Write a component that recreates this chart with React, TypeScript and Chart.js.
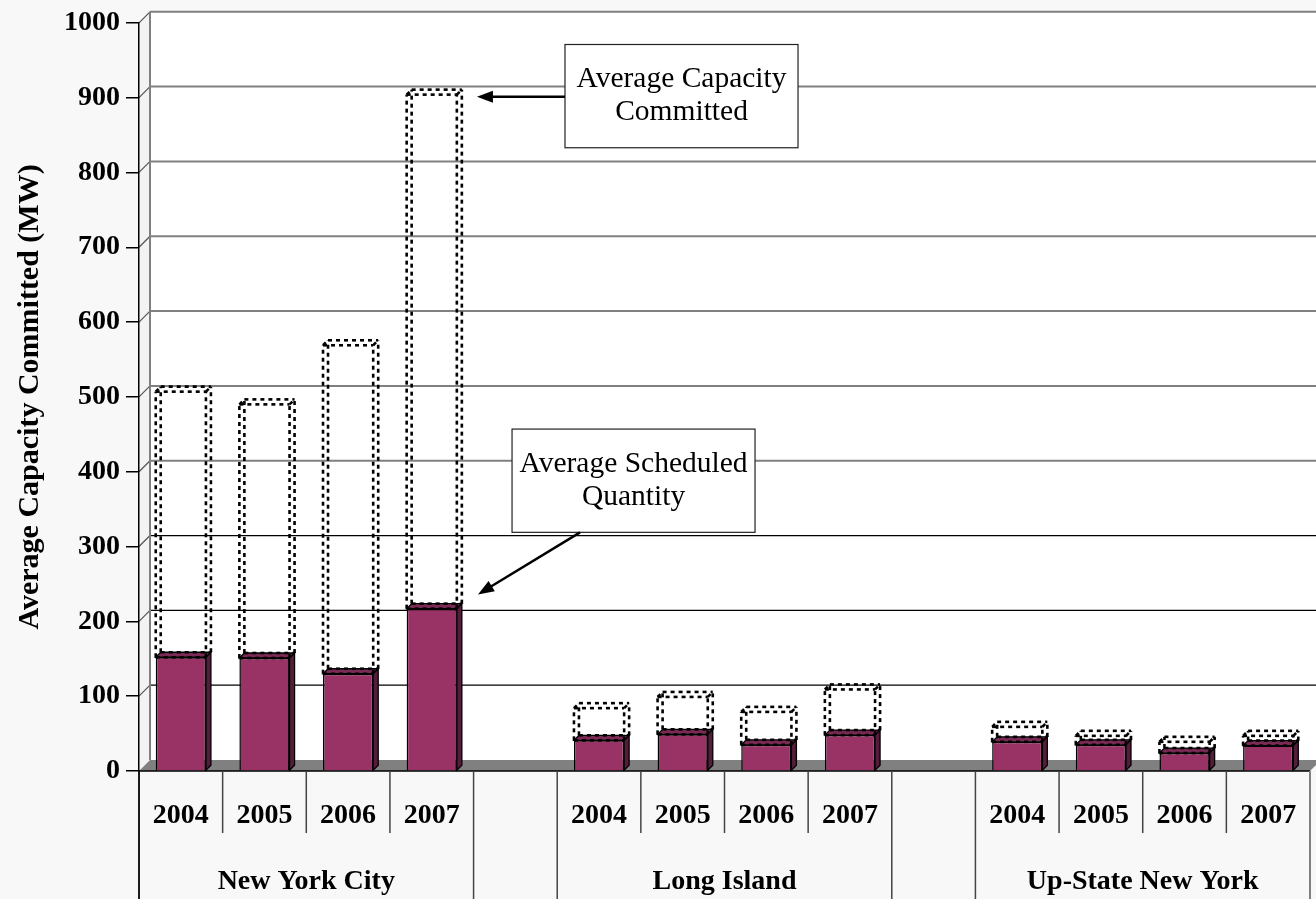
import React, { useEffect, useRef } from 'react';
import { Chart, registerables } from 'chart.js';

Chart.register(...registerables);

// ---------- data ----------
const yearLabels = ['2004', '2005', '2006', '2007', '', '2004', '2005', '2006', '2007', '', '2004', '2005', '2006', '2007'];
const groupNames = ['New York City', 'Long Island', 'Up-State New York'];
const groupStarts = [0, 5, 10];
const groupSize = 4;
const scheduledValues = [152, 151, 130, 217, null, 41, 49, 35, 48, null, 39, 35, 24, 34];
const committedValues = [507, 490, 569, 904, null, 84, 99, 79, 109, null, 59, 47, 39, 47];
const yMin = 0;
const yMax = 1000;
const yStep = 100;
const yTitle = 'Average Capacity Committed (MW)';

// annotation callouts (in data units: category index / value)
const callouts = [
  { lines: ['Average Capacity', 'Committed'], x0: 4.593, x1: 7.379, yTop: 971, yBottom: 833, from: { x: 4.593, y: 901 }, to: { x: 3.54, y: 901 } },
  { lines: ['Average Scheduled', 'Quantity'], x0: 3.96, x1: 6.865, yTop: 457, yBottom: 319, from: { x: 4.773, y: 319 }, to: { x: 3.553, y: 236 } },
];

const SERIF = '"Liberation Serif", "Times New Roman", serif';
const WALL_D = 11;
const BAR_D = 5;

function poly(ctx: CanvasRenderingContext2D, pts: number[][]) {
  ctx.beginPath();
  ctx.moveTo(pts[0][0], pts[0][1]);
  for (let i = 1; i < pts.length; i++) ctx.lineTo(pts[i][0], pts[i][1]);
  ctx.closePath();
}
function line(ctx: CanvasRenderingContext2D, x1: number, y1: number, x2: number, y2: number) {
  ctx.beginPath();
  ctx.moveTo(x1, y1);
  ctx.lineTo(x2, y2);
  ctx.stroke();
}

const threeDPlugin = {
  id: 'threeD',
  beforeDraw(chart: any) {
    const { ctx, chartArea: ca, scales } = chart;
    const x = scales.x, y = scales.y;
    const D = WALL_D;
    const top = y.getPixelForValue(yMax);
    const bot = y.getPixelForValue(yMin);
    ctx.save();
    ctx.fillStyle = '#f8f8f8';
    ctx.fillRect(0, 0, chart.width, chart.height);
    // side wall
    ctx.fillStyle = '#f3f3f3';
    poly(ctx, [[ca.left, top], [ca.left + D, top - D], [ca.left + D, bot - D], [ca.left, bot]]);
    ctx.fill();
    // back wall
    ctx.fillStyle = '#ffffff';
    ctx.fillRect(ca.left + D, top - D, ca.right - ca.left + 20, bot - top);
    // gridlines
    for (let v = yMin + yStep; v <= yMax; v += yStep) {
      const py = y.getPixelForValue(v);
      if (v >= 400) {
        ctx.strokeStyle = '#808080';
        ctx.lineWidth = 2;
      } else {
        ctx.strokeStyle = '#000000';
        ctx.lineWidth = 1.2;
      }
      line(ctx, ca.left + D, py - D, ca.right + D + 20, py - D);
      ctx.strokeStyle = '#555555';
      ctx.lineWidth = 1.2;
      line(ctx, ca.left, py, ca.left + D, py - D);
    }
    ctx.strokeStyle = '#808080';
    ctx.lineWidth = 2;
    line(ctx, ca.left + D, top - D, ca.left + D, bot - D);
    // floor
    ctx.fillStyle = '#808080';
    poly(ctx, [[ca.left, bot], [ca.left + D, bot - D], [ca.right + D, bot - D], [ca.right, bot]]);
    ctx.fill();
    // category table
    ctx.strokeStyle = '#000000';
    ctx.lineWidth = 1.5;
    line(ctx, ca.left, bot, ca.right, bot);
    const n = yearLabels.length;
    const slot = (ca.right - ca.left) / n;
    const fullBounds = new Set<number>();
    groupStarts.forEach((s) => { fullBounds.add(s); fullBounds.add(s + groupSize); });
    for (let k = 0; k <= n; k++) {
      const bx = ca.left + slot * k;
      const full = fullBounds.has(k);
      let inGroup = false;
      groupStarts.forEach((s) => { if (k > s && k < s + groupSize) inGroup = true; });
      if (!full && !inGroup) continue;
      ctx.strokeStyle = k === n ? '#808080' : '#444444';
      ctx.lineWidth = k === n ? 2 : 1.5;
      line(ctx, bx, bot, bx, full ? chart.height : bot + 62);
    }
    ctx.fillStyle = '#000000';
    ctx.font = `bold 28px ${SERIF}`;
    ctx.textAlign = 'center';
    ctx.textBaseline = 'middle';
    for (let i = 0; i < n; i++) {
      if (!yearLabels[i]) continue;
      ctx.fillText(yearLabels[i], x.getPixelForValue(i), bot + 45);
    }
    groupNames.forEach((g, gi) => {
      const cx = (x.getPixelForValue(groupStarts[gi]) + x.getPixelForValue(groupStarts[gi] + groupSize - 1)) / 2;
      ctx.fillText(g, cx, bot + 111);
    });
    ctx.restore();
  },
  afterDatasetsDraw(chart: any) {
    const { ctx } = chart;
    const d = BAR_D;
    const solid = chart.getDatasetMeta(0).data;
    const dotted = chart.getDatasetMeta(1).data;
    ctx.save();
    for (let i = 0; i < solid.length; i++) {
      const el = solid[i];
      if (scheduledValues[i] == null || !el) continue;
      const l = el.x - el.width / 2, r = el.x + el.width / 2, t = el.y, b = el.base;
      ctx.lineWidth = 1.3;
      ctx.strokeStyle = '#000000';
      ctx.fillStyle = '#7a2a55';
      poly(ctx, [[l, t], [l + d, t - d], [r + d, t - d], [r, t]]);
      ctx.fill();
      ctx.stroke();
      ctx.fillStyle = '#561c3c';
      poly(ctx, [[r, t], [r + d, t - d], [r + d, b - d], [r, b]]);
      ctx.fill();
      ctx.stroke();
    }
    ctx.strokeStyle = '#000000';
    ctx.lineWidth = 2.6;
    ctx.setLineDash([4, 4]);
    for (let i = 0; i < dotted.length; i++) {
      const el = dotted[i];
      if (committedValues[i] == null || !el) continue;
      const l = el.x - el.width / 2, r = el.x + el.width / 2, t = el.y, b = el.base;
      line(ctx, l + d, b - d, l + d, t - d);
      line(ctx, r + d, b - d, r + d, t - d);
      line(ctx, l + d, t - d, r + d, t - d);
      line(ctx, l + d, b - d, r + d, b - d);
      line(ctx, l, b, l, t);
      line(ctx, r, b, r, t);
      line(ctx, l, t, r, t);
      line(ctx, l, b, r, b);
      line(ctx, l, t, l + d, t - d);
      line(ctx, r, t, r + d, t - d);
    }
    ctx.restore();
  },
  afterDraw(chart: any) {
    const { ctx, scales } = chart;
    const x = scales.x, y = scales.y;
    ctx.save();
    ctx.strokeStyle = '#000000';
    ctx.fillStyle = '#000000';
    ctx.lineWidth = 1.5;
    line(ctx, chart.chartArea.left, chart.chartArea.bottom, chart.chartArea.left, chart.height);
    callouts.forEach((c) => {
      const bx0 = x.getPixelForValue(c.x0), bx1 = x.getPixelForValue(c.x1);
      const by0 = y.getPixelForValue(c.yTop), by1 = y.getPixelForValue(c.yBottom);
      ctx.fillStyle = '#ffffff';
      ctx.fillRect(bx0, by0, bx1 - bx0, by1 - by0);
      ctx.strokeStyle = '#222222';
      ctx.lineWidth = 1.2;
      ctx.strokeRect(bx0, by0, bx1 - bx0, by1 - by0);
      ctx.fillStyle = '#000000';
      ctx.font = `29.5px ${SERIF}`;
      ctx.textAlign = 'center';
      ctx.textBaseline = 'middle';
      const cx = (bx0 + bx1) / 2, cy = (by0 + by1) / 2;
      const lh = 33;
      c.lines.forEach((t, li) => {
        ctx.fillText(t, cx, cy + (li - (c.lines.length - 1) / 2) * lh);
      });
      // arrow
      const fx = x.getPixelForValue(c.from.x), fy = y.getPixelForValue(c.from.y);
      const tx = x.getPixelForValue(c.to.x), ty = y.getPixelForValue(c.to.y);
      const ang = Math.atan2(ty - fy, tx - fx);
      const hl = 16, hw = 6;
      ctx.strokeStyle = '#000000';
      ctx.lineWidth = 2.5;
      line(ctx, fx, fy, tx - Math.cos(ang) * hl * 0.8, ty - Math.sin(ang) * hl * 0.8);
      ctx.beginPath();
      ctx.moveTo(tx, ty);
      ctx.lineTo(tx - Math.cos(ang) * hl - Math.sin(ang) * hw, ty - Math.sin(ang) * hl + Math.cos(ang) * hw);
      ctx.lineTo(tx - Math.cos(ang) * hl + Math.sin(ang) * hw, ty - Math.sin(ang) * hl - Math.cos(ang) * hw);
      ctx.closePath();
      ctx.fill();
    });
    ctx.restore();
  },
};

export default function App() {
  const canvasRef = useRef<HTMLCanvasElement | null>(null);
  useEffect(() => {
    if (!canvasRef.current) return;
    const chart = new Chart(canvasRef.current, {
      type: 'bar',
      data: {
        labels: yearLabels,
        datasets: [
          {
            label: 'Average Scheduled Quantity',
            data: scheduledValues as any,
            backgroundColor: '#993366',
            borderColor: '#000000',
            borderWidth: 1.5,
            grouped: false,
            barPercentage: 0.6,
            categoryPercentage: 1,
            order: 1,
          } as any,
          {
            label: 'Average Capacity Committed',
            data: committedValues.map((c, i) => (c == null ? null : [scheduledValues[i], c])) as any,
            backgroundColor: 'rgba(0,0,0,0)',
            borderWidth: 0,
            grouped: false,
            barPercentage: 0.6,
            categoryPercentage: 1,
            order: 2,
          } as any,
        ],
      },
      options: {
        responsive: false,
        animation: false,
        devicePixelRatio: 1,
        layout: { padding: { top: 21, bottom: 128, right: 6, left: 0 } },
        plugins: { legend: { display: false }, tooltip: { enabled: false } },
        scales: {
          x: { display: false },
          y: {
            min: yMin,
            max: yMax,
            ticks: {
              stepSize: yStep,
              color: '#000000',
              padding: 6,
              font: { family: SERIF, size: 28, weight: 'bold' },
              callback: (v: any) => String(v),
            },
            grid: { drawOnChartArea: false, drawTicks: true, tickLength: 13, color: '#000000', lineWidth: 1.5 },
            border: { display: true, color: '#000000', width: 1.5 },
            title: {
              display: true,
              text: yTitle,
              color: '#000000',
              font: { family: SERIF, size: 30, weight: 'bold' },
              padding: { top: 12, bottom: 0 },
            },
            afterFit(scale: any) {
              scale.width = 139;
            },
          } as any,
        },
      },
      plugins: [threeDPlugin],
    });
    return () => chart.destroy();
  }, []);
  return (
    <div style={{ position: 'fixed', left: 0, top: 0, width: 1316, height: 899, background: '#f8f8f8' }}>
      <canvas ref={canvasRef} width={1316} height={899} style={{ width: 1316, height: 899, display: 'block' }} />
    </div>
  );
}
